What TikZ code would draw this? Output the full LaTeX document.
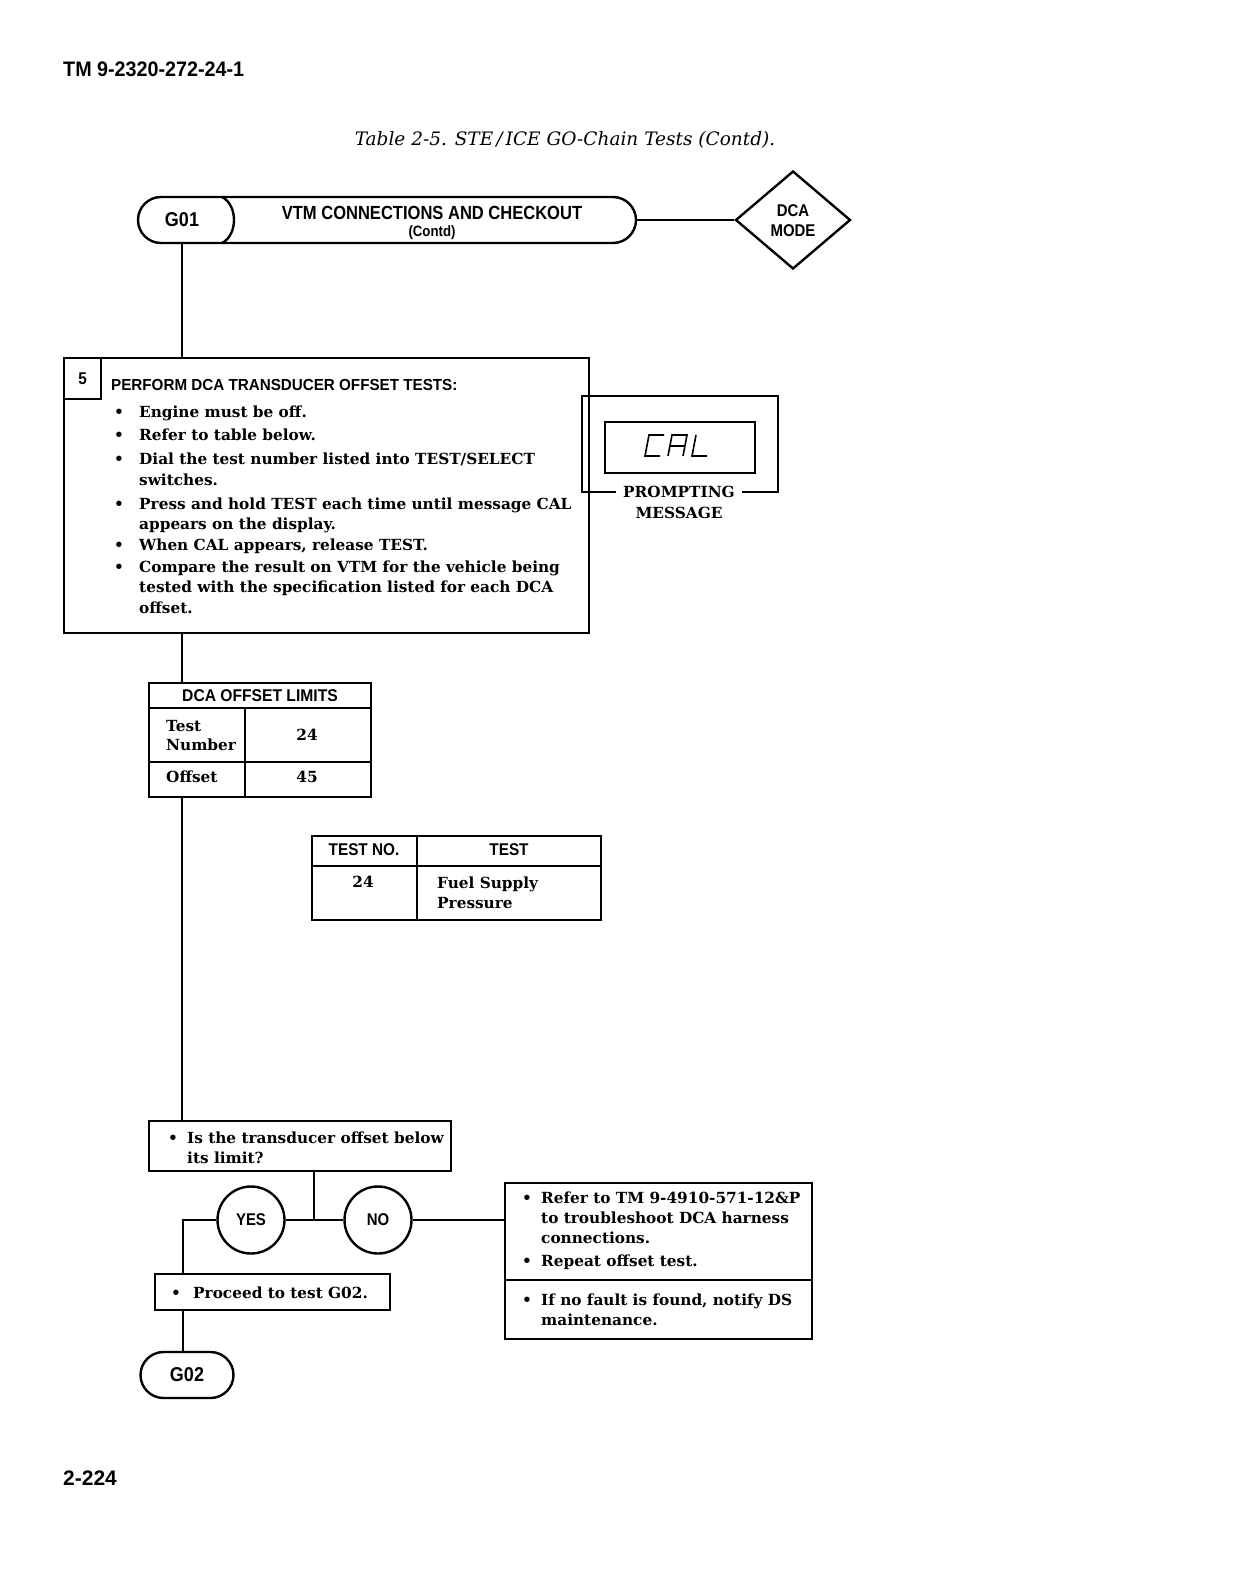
\documentclass[tikz,border=0pt]{standalone}
\usepackage{fontspec}
\setmainfont{DejaVu Serif}
\newfontfamily\hsf{Liberation Sans}
\usetikzlibrary{shapes.geometric}
\newcommand{\cs}[3]{{\hsf\bfseries\fontsize{#1}{#1}\selectfont\scalebox{#2}[1]{#3}}}
\newcommand{\bt}{\fontsize{15.3}{18}\selectfont\bfseries}
\begin{document}
\begin{tikzpicture}[x=1pt,y=-1pt,line width=2.4pt,
  txt/.style={inner sep=0pt,anchor=base west,font=\bt},
  ctxt/.style={inner sep=0pt,font=\bt},
  hd/.style={inner sep=0pt},
  box/.style={draw,inner sep=0pt,anchor=north west},
  pill/.style={draw,rounded corners=23pt,inner sep=0pt,minimum height=46pt},
  seg/.style={line width=1.6pt,line join=miter}]
\useasboundingbox[fill=white] (0,0) rectangle (1244,1570);

% page header
\node[hd,anchor=base west] (tm) at (62,77) {\cs{21}{0.94}{TM 9-2320-272-24-1}};
\node[hd] (cap) at (565,140) {\fontsize{18.5}{22}\selectfont\itshape Table 2-5. STE\,/\,ICE GO-Chain Tests (Contd).};
\node[hd,anchor=base west] (pg) at (62,1485) {\cs{21}{1}{2-224}};

% G01 terminal
\node[pill,minimum width=498pt] (g01) at (387,220) {};
\draw (222,197) .. controls (238,205) and (238,235) .. (222,243);
\node[hd] (g01lbl) at (182,220) {\cs{20}{0.9}{G01}};
\node[hd] (vtm) at (432,213) {\cs{19}{0.87}{VTM CONNECTIONS AND CHECKOUT}};
\node[hd] (contd) at (432,233) {\cs{15}{0.88}{(Contd)}};
\node[diamond,draw,inner sep=0pt,minimum width=115pt,minimum height=98pt] (dca) at (793,220) {};
\node[hd] (dca1) at (793,211) {\cs{17}{0.88}{DCA}};
\node[hd] (dca2) at (793,231) {\cs{17}{0.88}{MODE}};
\draw (g01.east) -- (dca.west);

% step 5 box
\node[box,minimum width=525pt,minimum height=275pt] (box5) at (63,357) {};
\node[box,minimum width=37pt,minimum height=41pt] (num5) at (63,357) {};
\node[hd] (n5) at (num5.center) {\cs{17}{0.9}{5}};
\node[hd,anchor=base west] (t5) at (110,390) {\cs{16}{0.95}{PERFORM DCA TRANSDUCER OFFSET TESTS:}};
\foreach \y/\n in {417/b1,440/b2,464/b3,509/b4,550/b5,572/b6}
  \node[txt] (\n) at (113,\y) {•};
\node[txt] (l1) at (138,417) {Engine must be off.};
\node[txt] (l2) at (138,440) {Refer to table below.};
\node[txt] (l3) at (138,464) {Dial the test number listed into TEST/SELECT};
\node[txt] (l4) at (138,485) {switches.};
\node[txt] (l5) at (138,509) {Press and hold TEST each time until message CAL};
\node[txt] (l6) at (138,529) {appears on the display.};
\node[txt] (l7) at (138,550) {When CAL appears, release TEST.};
\node[txt] (l8) at (138,572) {Compare the result on VTM for the vehicle being};
\node[txt] (l9) at (138,592) {tested with the specification listed for each DCA};
\node[txt] (l10) at (138,613) {offset.};

% CAL prompting message
\node[ctxt] (prompt) at (679,492) {PROMPTING};
\node[ctxt] (msg) at (679,513) {MESSAGE};
\draw (prompt.west) ++(-6,0) -| (582,396) -| (778,492) -- ([xshift=6pt]prompt.east);
\node[box,line width=2pt,minimum width=150pt,minimum height=51pt] (calbox) at (604,421) {};
% seven-segment C
\draw[seg] (664,435) -- (649,435) -- (645,456) -- (660,456);
% A
\draw[seg] (668,456) -- (672,435) -- (687,435) -- (683,456);
\draw[seg] (670,446) -- (685,446);
% L
\draw[seg] (696,435) -- (692,456) -- (707,456);

% DCA offset limits table
\node[box,minimum width=222pt,minimum height=114pt] (dcat) at (148,682) {};
\draw (148,708) -- (370,708);
\draw (148,762) -- (370,762);
\draw (245,708) -- (245,796);
\node[hd] (dcah) at (260,696) {\cs{17}{0.92}{DCA OFFSET LIMITS}};
\node[txt] (tn1) at (165,731) {Test};
\node[txt] (tn2) at (165,750) {Number};
\node[ctxt] (tn3) at (307,735) {24};
\node[txt] (of1) at (165,782) {Offset};
\node[ctxt] (of2) at (307,777) {45};

% test table
\node[box,minimum width=289pt,minimum height=84pt] (tt) at (311,835) {};
\draw (311,866) -- (600,866);
\draw (417,835) -- (417,919);
\node[hd] (tth1) at (364,850) {\cs{17}{0.9}{TEST NO.}};
\node[hd] (tth2) at (509,850) {\cs{17}{0.9}{TEST}};
\node[ctxt] (tt1) at (363,882) {24};
\node[txt] (tt2) at (436,888) {Fuel Supply};
\node[txt] (tt3) at (436,908) {Pressure};

% question
\node[box,minimum width=302pt,minimum height=50pt] (q) at (148,1120) {};
\node[txt] (qb) at (167,1143) {•};
\node[txt] (q1) at (186,1143) {Is the transducer offset below};
\node[txt] (q2) at (186,1163) {its limit?};

\node[circle,draw,inner sep=0pt,minimum size=67pt] (yes) at (251,1220) {\cs{17}{0.88}{YES}};
\node[circle,draw,inner sep=0pt,minimum size=67pt] (no) at (378,1220) {\cs{17}{0.88}{NO}};
\coordinate (jn) at (314,1220);
\coordinate (lx) at (183,1220);

% proceed
\node[box,minimum width=235pt,minimum height=36pt] (proc) at (154,1273) {};
\node[txt] (pb) at (170,1298) {•};
\node[txt] (p1) at (192,1298) {Proceed to test G02.};

\node[pill,minimum width=93pt] (g02) at (187,1375) {\cs{20}{0.9}{G02}};

% NO box
\node[box,minimum width=307pt,minimum height=156pt] (nob) at (504,1182) {};
\draw (504,1280) -- (811,1280);
\foreach \y/\n in {1203/nb1,1266/nb2,1305/nb3}
  \node[txt] (\n) at (521,\y) {•};
\node[txt] (n1) at (540,1203) {Refer to TM 9-4910-571-12\&P};
\node[txt] (n2) at (540,1223) {to troubleshoot DCA harness};
\node[txt] (n3) at (540,1243) {connections.};
\node[txt] (n4) at (540,1266) {Repeat offset test.};
\node[txt] (n5) at (540,1305) {If no fault is found, notify DS};
\node[txt] (n6) at (540,1325) {maintenance.};

% connectors
\draw (g01lbl |- g01.south) -- (g01lbl |- box5.north);
\draw (g01lbl |- box5.south) -- (g01lbl |- dcat.north);
\draw (g01lbl |- dcat.south) -- (g01lbl |- q.north);
\draw (jn |- q.south) -- (jn);
\draw (yes) -- (no);
\draw (yes.west) -- (lx) -- (lx |- proc.north);
\draw (no.east) -- (no.east -| nob.west);
\draw (lx |- proc.south) -- (lx |- g02.north);
\end{tikzpicture}
\end{document}
